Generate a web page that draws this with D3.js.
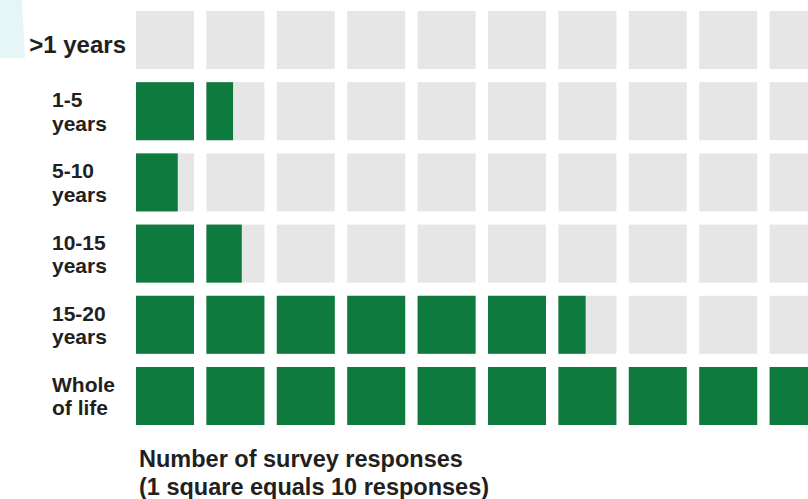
<!DOCTYPE html>
<html>
<head>
<meta charset="utf-8">
<script src="https://cdn.jsdelivr.net/npm/d3@7"></script>
<style>
  html, body { margin: 0; padding: 0; background: #ffffff; overflow: hidden; }
  svg { display: block; }
  text { font-family: "Liberation Sans", Arial, sans-serif; font-weight: bold; fill: #231f20; }
</style>
</head>
<body>
<div id="chart"></div>
<script>
// Categories (label lines) and values (in squares; 1 square = 10 responses)
const categories = [">1 years", "1-5 years", "5-10 years", "10-15 years", "15-20 years", "Whole of life"];
const categoryLines = [[">1 years"], ["1-5", "years"], ["5-10", "years"], ["10-15", "years"], ["15-20", "years"], ["Whole", "of life"]];
const squaresFilled = [0, 1.46, 0.72, 1.61, 6.47, 10];
const columnCount = 10;
const axisTitleLines = ["Number of survey responses", "(1 square equals 10 responses)"];

const W = 808, H = 499;
const green = "#0f7a3e", grey = "#e6e6e6";

const svg = d3.select("#chart").append("svg").attr("width", W).attr("height", H);

// decorative light cyan shape at top-left
svg.append("path")
  .attr("d", "M0,0 L22,0 L25,58 L0,58 Z")
  .attr("fill", "#e6f6f6");

const y = d3.scaleBand().domain(categories).range([11, 425]).paddingInner(0.185).paddingOuter(0);
const x = d3.scaleBand().domain(d3.range(columnCount)).range([136, 136 + 9 * 70.4 + 58]).paddingInner(12.4 / 70.4).paddingOuter(0);
const fillW = d3.scaleLinear().domain([0, 1]).range([0, x.bandwidth()]);

const rows = svg.selectAll("g.row")
  .data(categories.map((c, i) => ({ cat: c, lines: categoryLines[i], v: squaresFilled[i] })))
  .join("g").attr("class", "row")
  .attr("transform", d => `translate(0,${y(d.cat)})`);

rows.each(function (d) {
  const g = d3.select(this);
  const cells = d3.range(columnCount).map(k => ({ k, f: Math.max(0, Math.min(1, d.v - k)) }));
  g.selectAll("rect.bg").data(cells).join("rect").attr("class", "bg")
    .attr("x", c => x(c.k)).attr("y", 0)
    .attr("width", x.bandwidth()).attr("height", y.bandwidth())
    .attr("fill", grey);
  g.selectAll("rect.fg").data(cells.filter(c => c.f > 0)).join("rect").attr("class", "fg")
    .attr("x", c => x(c.k)).attr("y", 0)
    .attr("width", c => fillW(c.f)).attr("height", y.bandwidth())
    .attr("fill", green);

  // labels
  const bh = y.bandwidth();
  if (d.lines.length === 1) {
    g.append("text").style("font-size", "24px")
      .attr("text-anchor", "end").attr("x", 126).attr("y", bh / 2 + 12.5).text(d.lines[0]);
  } else {
    d.lines.forEach((ln, j) => {
      g.append("text").style("font-size", "21px")
        .attr("x", 52).attr("y", bh / 2 - 4 + j * 23.5).text(ln);
    });
  }
});

// axis title
axisTitleLines.forEach((ln, j) => {
  svg.append("text").style("font-size", "23.5px")
    .attr("x", 139).attr("y", 467 + j * 28).text(ln);
});
</script>
</body>
</html>
